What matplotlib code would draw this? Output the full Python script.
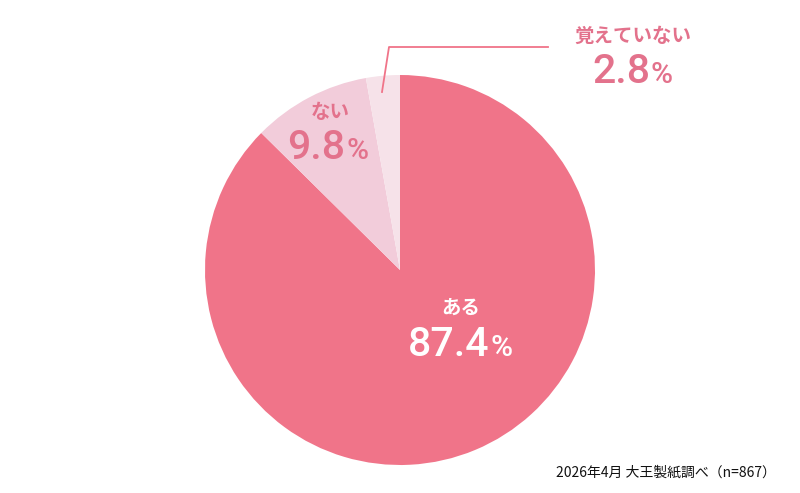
import matplotlib
matplotlib.use("Agg")
import matplotlib.pyplot as plt

plt.rcParams['font.family'] = ['Noto Sans CJK JP', 'DejaVu Sans']

# data
labels = ['ある', 'ない', '覚えていない']
values = [87.4, 9.8, 2.8]
colors = ['#F07489', '#F2CCDA', '#F6E2E9']
source = '2026年4月 大王製紙調べ（n=867）'

W, H = 800, 493
def Y(y):
    return H - y

fig = plt.figure(figsize=(8, 4.93), dpi=100)
ax = fig.add_axes([0, 0, 1, 1])
ax.pie(values, colors=colors, startangle=90, counterclock=False,
       center=(400, Y(270)), radius=195,
       wedgeprops=dict(linewidth=0))
ax.set_xlim(0, W)
ax.set_ylim(0, H)
ax.set_aspect('equal')
ax.axis('off')

label_col = '#E3728C'
num_font = ['Roboto', 'DejaVu Sans']

def pct(x, y, v, col):
    ax.text(x, Y(y), f'{v}', ha='right', va='baseline', fontsize=29.5,
            family=num_font, fontweight='medium', color=col)
    ax.text(x + 1, Y(y), '%', ha='left', va='baseline', fontsize=21.5,
            family=num_font, fontweight='medium', color=col)

# ある
ax.text(461, Y(308), labels[0], ha='center', va='center', fontsize=14,
        fontweight='bold', color='white')
pct(489, 356, values[0], 'white')

# ない
ax.text(330, Y(113), labels[1], ha='center', va='center', fontsize=14,
        fontweight='bold', color=label_col)
pct(345, 159, values[1], label_col)

# 覚えていない
ax.text(633, Y(36), labels[2], ha='center', va='center', fontsize=14,
        fontweight='bold', color=label_col)
pct(650, 83, values[2], label_col)

# leader line
ax.plot([382, 389, 548], [Y(92), Y(47), Y(47)], color='#F07489', linewidth=1.3)

ax.text(776, Y(472), source, ha='right', va='center', fontsize=10,
        color='#111111')

fig.savefig('out.png', dpi=100)
